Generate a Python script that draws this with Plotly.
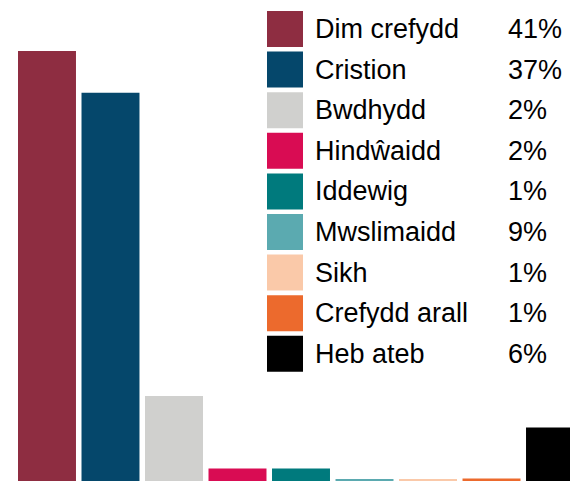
"""Crefydd: barrau a allwedd gyda chanrannau."""

import plotly.graph_objects as go

# Categorïau a lliwiau
CATEGORIAU = [
    'Dim crefydd', 'Cristion', 'Bwdhydd', 'Hindŵaidd', 'Iddewig',
    'Mwslimaidd', 'Sikh', 'Crefydd arall', 'Heb ateb',
]
LLIWIAU = [
    '#8E2D41', '#05476B', '#D0D0CE', '#D90C53', '#007A7D',
    '#5BAAB0', '#FAC9A9', '#EC6A2D', '#000000',
]
# Uchder y barrau (%)
GWERTHOEDD_BARRAU = [41, 37, 8.1, 1.2, 1.2, 0.2, 0.2, 0.25, 5.1]
# Canrannau yn yr allwedd
LABELI_CANRAN = ['41%', '37%', '2%', '2%', '1%', '9%', '1%', '1%', '6%']

FONT = 'Liberation Sans, Arial, sans-serif'
MAINT_FFONT = 27

fig = go.Figure()

fig.add_trace(go.Bar(
    x=list(range(len(CATEGORIAU))),
    y=GWERTHOEDD_BARRAU,
    marker=dict(color=LLIWIAU, line=dict(width=0)),
    hoverinfo='skip',
    showlegend=False,
))

# Allwedd: sgwariau lliw ar echel arall (rhes = mynegai)
rhesi = list(range(len(CATEGORIAU)))
fig.add_trace(go.Scatter(
    x=[285] * len(CATEGORIAU),
    y=rhesi,
    mode='markers',
    marker=dict(symbol='square', size=36, color=LLIWIAU, line=dict(width=0)),
    xaxis='x2',
    yaxis='y2',
    hoverinfo='skip',
    showlegend=False,
))

anotasiynau = []
for i, (enw, canran) in enumerate(zip(CATEGORIAU, LABELI_CANRAN)):
    for x, testun in ((313, enw), (506, canran)):
        anotasiynau.append(dict(
            x=x, y=i, xref='x2', yref='y2', text=testun,
            xanchor='left', yanchor='middle', showarrow=False,
            font=dict(family=FONT, size=MAINT_FFONT, color='#000000'),
        ))

fig.update_layout(
    width=570,
    height=481,
    margin=dict(l=0, r=0, t=0, b=0),
    paper_bgcolor='white',
    plot_bgcolor='white',
    bargap=0.087,
    xaxis=dict(range=[-0.74, 8.236], visible=False, fixedrange=True),
    yaxis=dict(range=[0, 45.85], visible=False, fixedrange=True),
    xaxis2=dict(range=[0, 570], overlaying='x', visible=False, fixedrange=True),
    yaxis2=dict(range=[11.133, -0.714], overlaying='y', visible=False, fixedrange=True),
    annotations=anotasiynau,
)

fig.write_html(
    'out.html',
    config={'displayModeBar': False},
    post_script="document.body.style.margin='0';document.body.style.overflow='hidden';",
)
